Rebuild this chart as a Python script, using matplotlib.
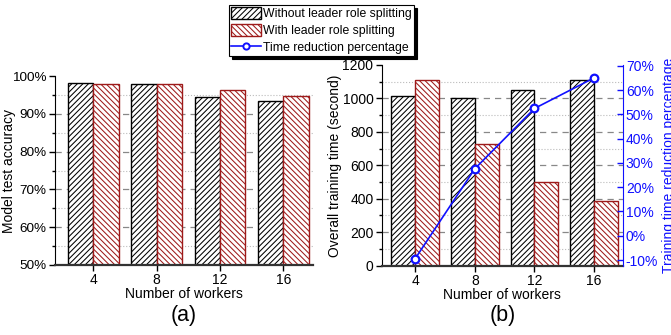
import numpy as np
import matplotlib
matplotlib.use('Agg')
import matplotlib.pyplot as plt
from matplotlib.patches import Patch
from matplotlib.lines import Line2D
from matplotlib.ticker import MultipleLocator, FuncFormatter

plt.rcParams['font.family'] = ['Liberation Sans', 'DejaVu Sans']
plt.rcParams['font.size'] = 10
plt.rcParams['hatch.linewidth'] = 0.75

# data
workers = ['4', '8', '12', '16']
acc_without = [98.1, 97.9, 94.4, 93.3]
acc_with = [97.9, 97.9, 96.2, 94.6]
time_without = [1013, 1005, 1050, 1110]
time_with = [1110, 727, 500, 388]
reduction = [-9.4, 27.6, 52.4, 65.0]

red = '#9e1a1a'
blue = '#1010ff'

fig = plt.figure(figsize=(6.71, 3.35), dpi=100)
ax1 = fig.add_axes([0.082, 0.209, 0.3845, 0.564])
ax2 = fig.add_axes([0.569, 0.207, 0.3595, 0.599])

x = np.arange(len(workers))
w = 0.4


def style(ax):
    ax.spines['top'].set_visible(False)
    ax.spines['right'].set_visible(False)
    ax.spines['bottom'].set_linewidth(1.6)
    ax.spines['bottom'].set_color('#333333')
    ax.set_axisbelow(True)
    ax.grid(which='major', axis='y', linestyle=(0, (5, 4)), color='#888888', lw=0.9)
    ax.grid(which='minor', axis='y', linestyle=':', color='#bbbbbb', lw=0.8)
    ax.tick_params(which='major', direction='out', length=4, width=1, pad=2)
    ax.tick_params(which='minor', direction='out', length=2.5, width=1)
    ax.tick_params(axis='x', which='minor', bottom=False)
    ax.set_xticks(x)
    ax.set_xticklabels(workers)
    ax.set_xlabel('Number of workers', labelpad=0)


# (a)
ax1.bar(x - w / 2, acc_without, w, color='white', edgecolor='black', hatch='//////', lw=1)
ax1.bar(x + w / 2, acc_with, w, color='white', edgecolor=red, hatch='\\\\\\\\\\\\', lw=1)
ax1.set_ylim(50, 100)
ax1.set_xlim(-0.605, 3.47)
ax1.yaxis.set_major_locator(MultipleLocator(10))
ax1.yaxis.set_minor_locator(MultipleLocator(5))
ax1.yaxis.set_major_formatter(FuncFormatter(lambda v, p: '%d%%' % v))
ax1.set_ylabel('Model test accuracy')
style(ax1)
ax1.tick_params(axis='y', labelsize=9.7)
ax1.yaxis.set_label_coords(-0.152, 0.5)

# (b)
ax2.bar(x - w / 2, time_without, w, color='white', edgecolor='black', hatch='//////', lw=1)
ax2.bar(x + w / 2, time_with, w, color='white', edgecolor=red, hatch='\\\\\\\\\\\\', lw=1)
ax2.set_ylim(0, 1200)
ax2.set_xlim(-0.56, 3.485)
ax2.yaxis.set_major_locator(MultipleLocator(200))
ax2.yaxis.set_minor_locator(MultipleLocator(100))
ax2.set_ylabel('Overall training time (second)', labelpad=0)
style(ax2)

ax3 = ax2.twinx()
ax3.plot(x, reduction, color=blue, lw=1.2, marker='o', ms=5.5, mfc='white', mec=blue, mew=1.6)
ax3.set_ylim(-12.3, 70.3)
ax3.yaxis.set_major_locator(MultipleLocator(10))
ax3.yaxis.set_major_formatter(FuncFormatter(lambda v, p: '%d%%' % v))
ax3.spines['top'].set_visible(False)
ax3.spines['left'].set_visible(False)
ax3.spines['bottom'].set_visible(False)
ax3.spines['right'].set_color(blue)
ax3.tick_params(axis='y', colors=blue, direction='in', length=4, width=1, pad=2)
ax3.set_ylabel('Training time reduction percentage', color=blue, labelpad=3)

fig.text(0.274, 0.057, '(a)', fontsize=15.5, ha='center', va='center')
fig.text(0.749, 0.057, '(b)', fontsize=15.5, ha='center', va='center')

handles = [
    Patch(facecolor='white', edgecolor='black', hatch='//////', lw=1),
    Patch(facecolor='white', edgecolor=red, hatch='\\\\\\\\\\\\', lw=1),
    Line2D([], [], color=blue, lw=1.2, marker='o', ms=4.5, mfc='white', mec=blue, mew=1.4),
]
labels = ['Without leader role splitting', 'With leader role splitting', 'Time reduction percentage']
leg = fig.legend(handles, labels, loc='upper left', bbox_to_anchor=(0.341, 0.985),
                 fontsize=8.8, frameon=True, fancybox=False, shadow={'color': 'black', 'alpha': 1},
                 edgecolor='black', framealpha=1, borderpad=0.2, labelspacing=0.3,
                 handlelength=2.4, handleheight=1.1, handletextpad=0.2, borderaxespad=0)
leg.get_frame().set_linewidth(0.8)

# no grid line on the top edge
fig.canvas.draw()
for ax in (ax1, ax2):
    top = ax.get_ylim()[1]
    for t in ax.yaxis.get_major_ticks():
        if abs(t.get_loc() - top) < 1e-6:
            t.gridline.set_visible(False)

fig.savefig('out.png', dpi=100)
